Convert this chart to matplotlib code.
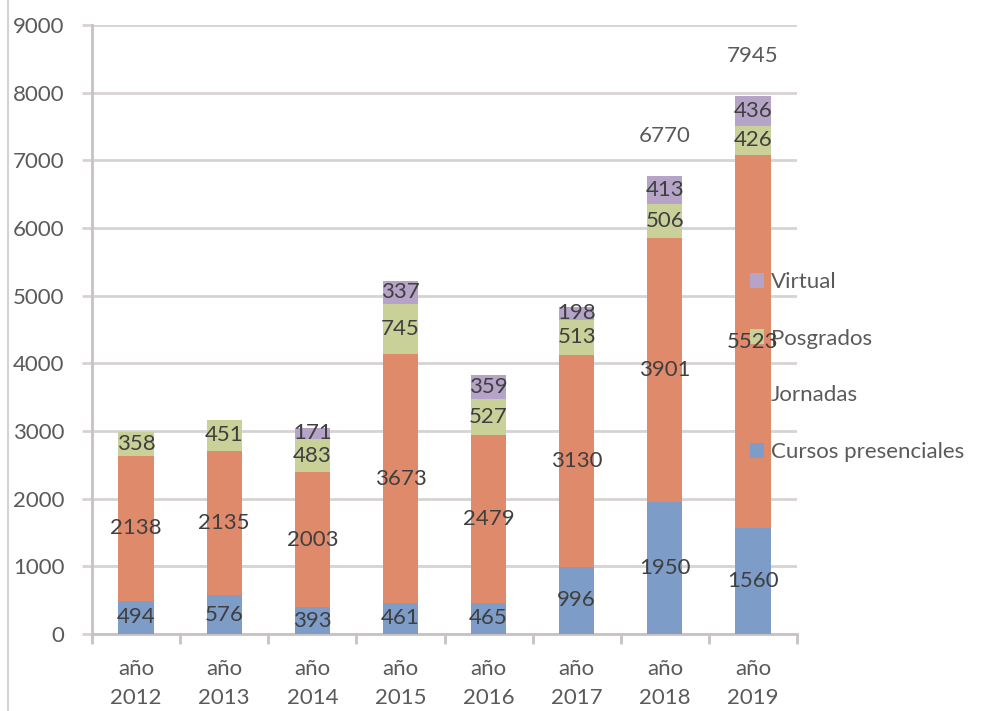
import matplotlib
matplotlib.use("Agg")
import matplotlib.pyplot as plt
from matplotlib.lines import Line2D
from matplotlib.patches import Patch
import numpy as np

plt.rcParams['font.family'] = ['Lato', 'DejaVu Sans']

categories = ["año\n2012", "año\n2013", "año\n2014", "año\n2015",
              "año\n2016", "año\n2017", "año\n2018", "año\n2019"]
cursos = [494, 576, 393, 461, 465, 996, 1950, 1560]
jornadas = [2138, 2135, 2003, 3673, 2479, 3130, 3901, 5523]
posgrados = [358, 451, 483, 745, 527, 513, 506, 426]
virtual = [0, 0, 171, 337, 359, 198, 413, 436]
show_total = [False, False, False, False, False, False, True, True]

series = [("Cursos presenciales", cursos, "#7d9cc8"),
          ("Jornadas", jornadas, "#e08a6c"),
          ("Posgrados", posgrados, "#c9d098"),
          ("Virtual", virtual, "#b6a3c8")]

W, H = 997, 711
fig = plt.figure(figsize=(W / 100, H / 100), dpi=100)
ax = fig.add_axes([92 / W, 1 - 634 / H, 705 / W, 609 / H])

x = np.arange(len(categories))
bottom = np.zeros(len(categories))
grid_c = "#d8d3d3"
label_c = "#3f3f3f"
tick_c = "#5a5a5a"
fs = 16

for name, vals, col in series:
    v = np.array(vals, dtype=float)
    bc = ax.bar(x, v, 0.4, bottom=bottom, color=col, label=name, zorder=3)
    labels = [str(int(val)) if val > 0 else "" for val in v]
    ax.bar_label(bc, labels=labels, label_type='center', fontsize=fs,
                 color=label_c, zorder=7)
    bottom += v

for i, (tot, show) in enumerate(zip(bottom, show_total)):
    if show:
        ax.text(x[i], tot + 590, str(int(tot)), ha='center', va='center',
                fontsize=fs, color=tick_c, zorder=7)

ax.set_xlim(-0.5, len(categories) - 0.5)
ax.set_ylim(0, 9000)
ax.set_yticks(np.arange(0, 9001, 1000))
ax.yaxis.grid(True, color=grid_c, linewidth=2, zorder=0)
ax.set_axisbelow(True)
ax.tick_params(axis='y', labelsize=fs, labelcolor=tick_c, color=grid_c,
               length=7, width=2, pad=13)
ax.set_xticks(x)
ax.set_xticklabels(categories, fontsize=fs, color=tick_c, linespacing=1.55)
ax.tick_params(axis='x', length=0, pad=18)
ax.set_xticks(np.arange(-0.5, len(categories), 1), minor=True)
ax.tick_params(axis='x', which='minor', length=7, width=2, color="#c8c2c2")

for s in ['top', 'right']:
    ax.spines[s].set_visible(False)
for s in ['left', 'bottom']:
    ax.spines[s].set_color("#c8c2c2")
    ax.spines[s].set_linewidth(2)

handles = [Patch(facecolor=col, edgecolor='none') for _, _, col in series][::-1]
names = [n for n, _, _ in series][::-1]
leg = ax.legend(handles, names, loc='center left',
                bbox_to_anchor=(750 / W, 1 - 367 / H),
                bbox_transform=fig.transFigure, frameon=False, fontsize=fs,
                labelspacing=1.65, handlelength=0.65, handleheight=0.65,
                handletextpad=0.3, borderpad=0, borderaxespad=0,
                labelcolor=tick_c)
leg.set_zorder(6)

fig.add_artist(Line2D([8 / W, 8 / W], [0, 1], color="#d6d2d2", linewidth=1.5,
                      transform=fig.transFigure))

fig.savefig("out.png", dpi=100, facecolor='white')
